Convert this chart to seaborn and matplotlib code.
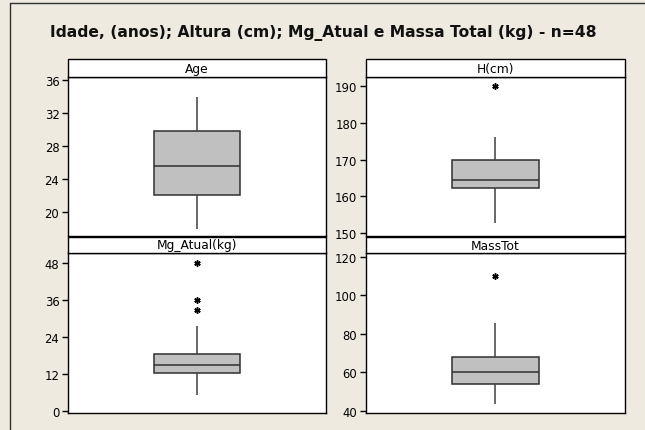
import numpy as np
import pandas as pd
import matplotlib
matplotlib.use("Agg")
import matplotlib.pyplot as plt
import seaborn as sns
from matplotlib.patches import Rectangle
from matplotlib.lines import Line2D

# ==================== data ====================
# observations chosen so the box quartiles / whiskers / outliers match the chart
age = [18.0, 22.1, 25.6, 29.8, 34.0]
height_cm = [152.7, 162.2, 162.2, 164.4, 164.4, 169.8, 169.8, 176.1, 190.0]
mg_atual = [5.2, 12.2, 12.2, 12.2, 12.2, 14.7, 14.7, 14.7, 14.7,
            18.4, 18.4, 18.4, 18.4, 27.5, 32.7, 35.9, 48.1]
mass_tot = [43.3, 53.75, 53.75, 60.0, 60.0, 68.1, 68.1, 85.5, 110.0]

panel_names = ["Age", "H(cm)", "Mg_Atual(kg)", "MassTot"]
panel_values = [age, height_cm, mg_atual, mass_tot]
panel_ylims = [(17.1, 36.4), (149.1, 192.5), (-0.75, 51.25), (38.8, 122.1)]
panel_ticks = [[20, 24, 28, 32, 36], [150, 160, 170, 180, 190],
               [0, 12, 24, 36, 48], [40, 60, 80, 100, 120]]

title = "Idade, (anos); Altura (cm); Mg_Atual e Massa Total (kg) - n=48"

# ==================== style ====================
sns.set_style("white")
plt.rcParams['font.family'] = ['DejaVu Sans']
plt.rcParams['text.color'] = 'black'
plt.rcParams['ytick.color'] = 'black'
plt.rcParams['ytick.labelcolor'] = 'black'

W, H = 645, 431
bg = "#EEEAE0"
fig = plt.figure(figsize=(W / 100, H / 100), dpi=100, facecolor=bg)

# pixel boxes: left, right, top, bottom, strip height
boxes = [
    (67.7, 326.0, 78.0, 237.3, 18.0),
    (365.7, 625.0, 78.0, 237.3, 18.0),
    (67.7, 326.0, 254.0, 414.0, 16.0),
    (365.7, 625.0, 254.0, 414.0, 16.0),
]

for (l, r, t, b, sh), name, vals, ylim, ticks in zip(
        boxes, panel_names, panel_values, panel_ylims, panel_ticks):
    ax = fig.add_axes([l / W, 1 - b / H, (r - l) / W, (b - t) / H])
    ax.set_facecolor("white")
    df = pd.DataFrame({"value": vals})
    sns.boxplot(data=df, y="value", ax=ax, color="#C0C0C0", saturation=1,
                width=0.335, linecolor="#303030", linewidth=1.1,
                showcaps=False,
                flierprops=dict(marker=(6, 2, 0), markersize=4.5,
                                markeredgewidth=1.1,
                                markerfacecolor="black",
                                markeredgecolor="black"),
                whiskerprops=dict(color="#404040", linewidth=1.1))
    ax.set_xlim(-0.5, 0.5)
    ax.set_ylim(*ylim)
    ax.set_yticks(ticks)
    ax.set_xticks([])
    ax.set_xlabel("")
    ax.set_ylabel("")
    ax.tick_params(axis="y", direction="out", length=4, width=1,
                   color="black", labelcolor="black", labelsize=8.4,
                   pad=2, left=True)
    for sp in ax.spines.values():
        sp.set_visible(True)
        sp.set_color("black")
        sp.set_linewidth(1)

    # strip header
    shf = sh / (b - t)
    ax.add_patch(Rectangle((0, 1), 1, shf, transform=ax.transAxes,
                           facecolor="white", edgecolor="black",
                           linewidth=1, clip_on=False, zorder=5))
    ax.text(0.5, 1 + shf / 2, name, transform=ax.transAxes,
            ha="center", va="center", fontsize=8.8, color="black", zorder=6)

# title
fig.text(323 / W, 1 - 33 / H, title, ha="center", va="center",
         fontsize=11.2, fontweight="bold", color="#111111")

# outer frame lines (left and top)
fig.add_artist(Line2D([10 / W, 10 / W], [0, 1 - 4 / H], transform=fig.transFigure,
                      color="#303030", linewidth=1))
fig.add_artist(Line2D([10 / W, 1], [1 - 4 / H, 1 - 4 / H], transform=fig.transFigure,
                      color="#303030", linewidth=1))

fig.savefig("out.png", dpi=100, facecolor=bg)
